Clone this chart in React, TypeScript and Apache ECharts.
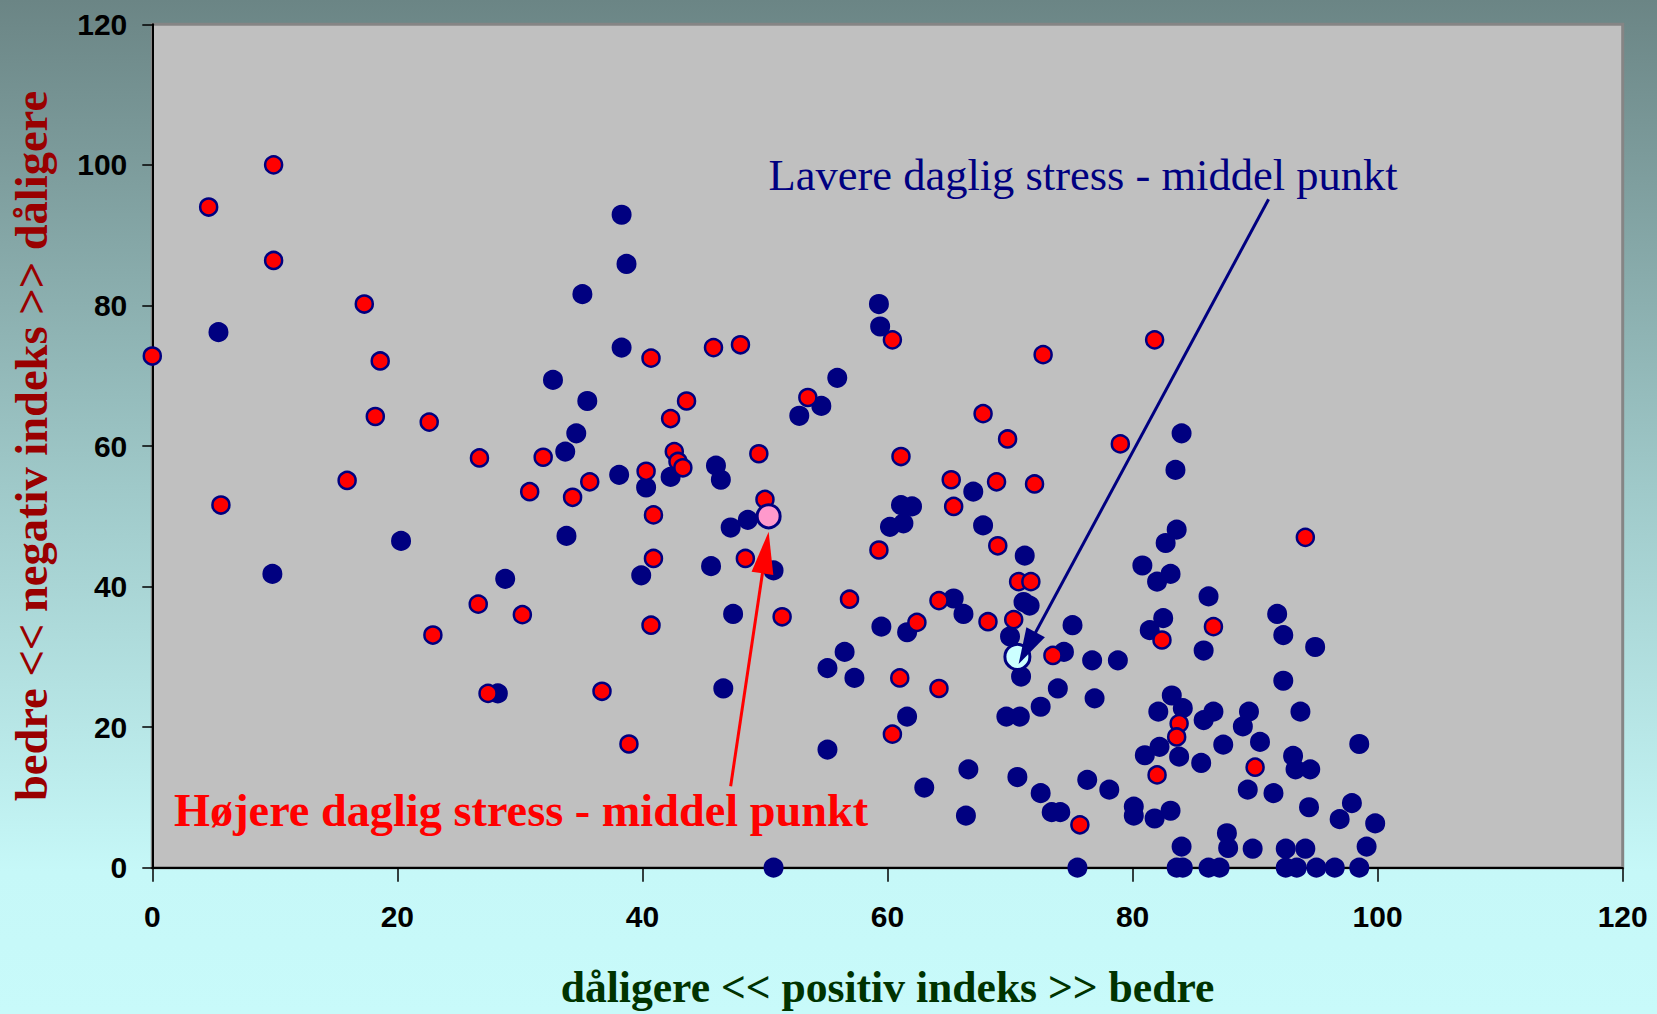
import React, { useEffect, useRef } from "react";
import * as echarts from "echarts";

// ---- data ----
const xTickValues = [0, 20, 40, 60, 80, 100, 120];
const yTickValues = [0, 20, 40, 60, 80, 100, 120];

const xAxisTitle = "dåligere << positiv indeks >> bedre";
const yAxisTitle = "bedre << negativ indeks >> dåligere";
const lowMeanLabel = "Lavere daglig stress - middel punkt";
const highMeanLabel = "Højere daglig stress - middel punkt";

// Lavere daglig stress (navy dots)
const lowStress: [number, number][] = [
  [5.4, 76.2], [9.8, 41.8], [20.3, 46.5], [28.2, 24.8], [28.8, 41.1], [32.7, 69.4],
  [33.8, 47.2], [33.7, 59.2], [34.6, 61.8], [35.5, 66.4], [35.1, 81.6], [38.3, 92.9],
  [38.7, 85.9], [38.3, 74.0], [38.1, 55.9], [40.3, 54.1], [39.9, 41.6], [42.3, 55.6],
  [46.0, 57.2], [46.4, 55.2], [45.6, 42.9], [47.2, 48.4], [48.6, 49.5], [47.4, 36.1],
  [46.6, 25.5], [50.7, 42.3], [50.7, 0], [52.8, 64.3], [54.6, 65.7], [55.9, 69.7],
  [55.1, 28.4], [56.5, 30.7], [57.3, 27.0], [55.1, 16.8], [59.3, 80.2], [59.4, 77.0],
  [59.5, 34.3], [60.2, 48.5], [61.1, 51.6], [61.3, 49.0], [62.0, 51.4], [61.6, 33.5],
  [61.6, 21.5], [63.0, 11.4], [65.4, 38.3], [66.2, 36.1], [66.6, 14.0], [66.4, 7.4],
  [67.0, 53.5], [67.8, 48.7], [71.2, 44.4], [71.1, 37.8], [71.6, 37.3], [70.0, 32.9],
  [70.9, 27.2], [74.4, 30.7], [75.1, 34.5], [76.7, 29.5], [78.8, 29.5], [73.9, 25.5],
  [76.9, 24.1], [72.5, 22.9], [69.7, 21.5], [70.8, 21.5], [70.6, 12.9], [72.5, 10.6],
  [73.4, 7.9], [74.1, 7.9], [75.5, 0], [76.3, 12.5], [78.1, 11.1], [80.1, 8.7],
  [80.1, 7.4], [81.8, 7.0], [83.1, 8.1], [83.6, 48.1], [82.7, 46.2], [80.8, 43.0],
  [83.1, 41.8], [82.0, 40.7], [84.0, 61.8], [83.5, 56.6], [86.2, 38.6], [82.5, 35.5],
  [81.4, 33.8], [85.8, 30.9], [83.2, 24.5], [84.1, 22.7], [82.1, 22.2], [86.6, 22.2],
  [85.8, 21.0], [89.5, 22.2], [89.0, 20.1], [87.4, 17.5], [82.2, 17.2], [81.0, 16.0],
  [83.8, 15.8], [85.6, 14.9], [89.4, 11.1], [87.7, 4.9], [87.8, 2.8], [84.0, 3.0],
  [83.6, 0], [84.1, 0], [86.2, 0], [87.1, 0], [89.8, 2.7], [91.8, 36.1],
  [92.3, 33.1], [94.9, 31.4], [92.3, 26.6], [93.7, 22.2], [90.4, 17.9], [98.5, 17.6],
  [93.1, 15.9], [93.3, 14.0], [94.5, 14.0], [91.5, 10.6], [94.4, 8.6], [97.9, 9.2],
  [96.9, 6.9], [99.8, 6.3], [92.5, 2.7], [94.1, 2.7], [99.1, 3.0], [92.5, 0],
  [93.4, 0], [95.0, 0], [96.5, 0], [98.5, 0],
];

// Højere daglig stress (red dots)
const highStress: [number, number][] = [
  [0.0, 72.8], [4.6, 94.0], [9.9, 100.0], [9.9, 86.4], [17.3, 80.2], [18.6, 72.1],
  [18.2, 64.2], [22.6, 63.4], [26.7, 58.3], [15.9, 55.1], [5.6, 51.6], [22.9, 33.1],
  [26.6, 37.5], [27.4, 24.8], [30.2, 36.0], [30.8, 53.5], [31.9, 58.4], [34.3, 52.7],
  [35.7, 54.9], [36.7, 25.1], [38.9, 17.6], [40.7, 72.5], [40.3, 56.4], [40.9, 50.2],
  [40.9, 44.0], [40.7, 34.5], [42.3, 63.9], [42.6, 59.2], [42.9, 57.8], [43.3, 56.9],
  [43.6, 66.4], [45.8, 74.0], [48.0, 74.4], [49.5, 58.9], [50.0, 52.4], [48.4, 44.0],
  [51.4, 35.7], [53.5, 66.9], [56.9, 38.2], [59.3, 45.2], [60.4, 75.1], [61.1, 58.5],
  [61.0, 27.0], [60.4, 19.0], [62.4, 34.9], [64.2, 38.0], [64.2, 25.5], [65.2, 55.2],
  [65.4, 51.4], [67.8, 64.6], [69.8, 61.0], [68.9, 54.9], [69.0, 45.8], [68.2, 35.0],
  [70.3, 35.3], [70.7, 40.7], [71.7, 40.7], [72.0, 54.6], [72.7, 73.0], [73.5, 30.2],
  [79.0, 60.3], [81.8, 75.1], [82.4, 32.4], [83.8, 20.5], [83.6, 18.6], [82.0, 13.2],
  [86.6, 34.3], [90.0, 14.3], [75.7, 6.1], [94.1, 47.0],
];

const highMean: [number, number][] = [[50.3, 50.0]];
const lowMean: [number, number][] = [[70.6, 30.0]];

// arrow anchors (data coordinates): [start, tip]
const highArrow: [number, number][] = [[47.2, 11.6], [50.3, 47.8]];
const lowArrow: [number, number][] = [[91.1, 95.1], [70.7, 29.0]];

const NAVY = "#000080";

export default function App() {
  const ref = useRef<HTMLDivElement>(null);

  useEffect(() => {
    if (!ref.current) return;
    const chart = echarts.init(ref.current, null, { renderer: "svg" });
    const tickFont = {
      fontFamily: "Liberation Sans",
      fontWeight: "bold" as const,
      fontSize: 30,
      color: "#000",
    };
    chart.setOption({
      animation: false,
      backgroundColor: "transparent",
      grid: {
        left: 152.3,
        top: 24.3,
        width: 1470.4,
        height: 843.4,
        show: true,
        backgroundColor: "#c0c0c0",
        borderColor: "#858585",
        borderWidth: 3,
      },
      xAxis: {
        type: "value",
        min: xTickValues[0],
        max: xTickValues[xTickValues.length - 1],
        interval: xTickValues[1] - xTickValues[0],
        name: xAxisTitle,
        nameLocation: "middle",
        nameGap: 97,
        nameTextStyle: {
          fontFamily: "Liberation Serif",
          fontWeight: "bold",
          fontSize: 43.6,
          color: "#003300",
        },
        axisLine: { show: true, onZero: false, lineStyle: { color: "#000", width: 2 } },
        axisTick: { show: true, length: 14, lineStyle: { color: "#000", width: 1.5 } },
        axisLabel: { ...tickFont, margin: 34 },
        splitLine: { show: false },
      },
      yAxis: {
        type: "value",
        min: yTickValues[0],
        max: yTickValues[yTickValues.length - 1],
        interval: yTickValues[1] - yTickValues[0],
        name: yAxisTitle,
        nameLocation: "middle",
        nameGap: 97,
        nameTextStyle: {
          fontFamily: "Liberation Serif",
          fontWeight: "bold",
          fontSize: 46.5,
          color: "#990000",
        },
        axisLine: { show: true, onZero: false, lineStyle: { color: "#000", width: 2 } },
        axisTick: { show: true, length: 10, lineStyle: { color: "#000", width: 1.5 } },
        axisLabel: { ...tickFont, margin: 25 },
        splitLine: { show: false },
      },
      series: [
        {
          name: "Lavere daglig stress",
          type: "scatter",
          clip: false,
          data: lowStress,
          symbol: "circle",
          symbolSize: 18,
          itemStyle: { color: NAVY, borderColor: NAVY, borderWidth: 2, opacity: 1 },
          z: 3,
        },
        {
          name: "Højere daglig stress",
          type: "scatter",
          clip: false,
          data: highStress,
          symbol: "circle",
          symbolSize: 17,
          itemStyle: { color: "#ff0000", borderColor: NAVY, borderWidth: 2.5, opacity: 1 },
          z: 4,
        },
        {
          name: "Højere middel",
          type: "scatter",
          clip: false,
          data: highMean,
          symbol: "circle",
          symbolSize: 23,
          itemStyle: { color: "#ff99cc", borderColor: NAVY, borderWidth: 3, opacity: 1 },
          z: 5,
        },
        {
          name: "Lavere middel",
          type: "scatter",
          clip: false,
          data: lowMean,
          symbol: "circle",
          symbolSize: 25,
          itemStyle: { color: "#ccffff", borderColor: NAVY, borderWidth: 3, opacity: 1 },
          z: 5,
        },
      ],
    });

    const arrow = (
      pts: [number, number][],
      color: string,
      headLen: number,
      headW: number,
      lw: number
    ) => {
      const p0 = chart.convertToPixel({ gridIndex: 0 }, pts[0]) as number[];
      const p1 = chart.convertToPixel({ gridIndex: 0 }, pts[1]) as number[];
      const dx = p1[0] - p0[0];
      const dy = p1[1] - p0[1];
      const len = Math.hypot(dx, dy);
      const ux = dx / len;
      const uy = dy / len;
      const bx = p1[0] - ux * headLen;
      const by = p1[1] - uy * headLen;
      const nx = -uy;
      const ny = ux;
      return [
        {
          type: "line",
          z: 100,
          shape: { x1: p0[0], y1: p0[1], x2: bx + ux * 2, y2: by + uy * 2 },
          style: { stroke: color, lineWidth: lw },
        },
        {
          type: "polygon",
          z: 100,
          shape: {
            points: [
              [p1[0], p1[1]],
              [bx + (nx * headW) / 2, by + (ny * headW) / 2],
              [bx - (nx * headW) / 2, by - (ny * headW) / 2],
            ],
          },
          style: { fill: color },
        },
      ];
    };

    chart.setOption({
      graphic: [
        ...arrow(highArrow, "#ff0000", 42, 22, 3),
        ...arrow(lowArrow, NAVY, 36, 21, 3),
        {
          type: "text",
          z: 100,
          x: 768.5,
          y: 175,
          style: {
            text: lowMeanLabel,
            fontFamily: "Liberation Serif",
            fontSize: 44.5,
            fill: NAVY,
            align: "left",
            verticalAlign: "middle",
          },
        },
        {
          type: "text",
          z: 100,
          x: 174,
          y: 810,
          style: {
            text: highMeanLabel,
            fontFamily: "Liberation Serif",
            fontWeight: "bold",
            fontSize: 46.3,
            fill: "#ff0000",
            align: "left",
            verticalAlign: "middle",
          },
        },
      ],
    });

    return () => chart.dispose();
  }, []);

  return (
    <div
      style={{
        position: "fixed",
        left: 0,
        top: 0,
        width: 1657,
        height: 1014,
        background:
          "linear-gradient(to bottom, #6b8585 0%, #9fc9c9 48%, #c6f8f8 86%, #c8fafa 100%)",
      }}
    >
      <div ref={ref} style={{ width: 1657, height: 1014 }} />
    </div>
  );
}
